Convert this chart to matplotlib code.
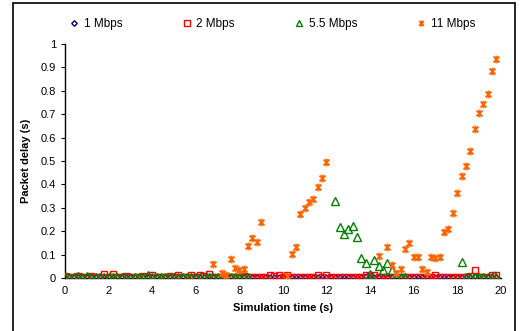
import matplotlib
matplotlib.use("Agg")
import matplotlib.pyplot as plt
import numpy as np
from matplotlib.path import Path
from matplotlib.patches import Rectangle

plt.rcParams['font.family'] = ['Liberation Sans', 'DejaVu Sans']

# sample times (every 0.2 s)
t = np.round(np.arange(0, 20, 0.2), 1)

# 1 Mbps - sits on the floor the whole run
d1 = [0.002, 0.002, 0.001, 0.002, 0.002, 0.002, 0.001, 0.002, 0.002, 0.002,
      0.002, 0.002, 0.002, 0.001, 0.002, 0.002, 0.002, 0.002, 0.002, 0.002,
      0.002, 0.001, 0.002, 0.002, 0.002, 0.002, 0.002, 0.002, 0.002, 0.002,
      0.002, 0.002, 0.002, 0.002, 0.002, 0.002, 0.002, 0.002, 0.002, 0.002,
      0.002, 0.002, 0.002, 0.002, 0.002, 0.002, 0.002, 0.002, 0.002, 0.002,
      0.002, 0.002, 0.002, 0.002, 0.002, 0.002, 0.002, 0.002, 0.002, 0.002,
      0.002, 0.002, 0.002, 0.002, 0.002, 0.002, 0.002, 0.002, 0.002, 0.003,
      0.002, 0.002, 0.002, 0.002, 0.002, 0.002, 0.002, 0.002, 0.002, 0.002,
      0.002, 0.002, 0.002, 0.002, 0.002, 0.002, 0.002, 0.002, 0.002, 0.002,
      0.002, 0.002, 0.002, 0.002, 0.003, 0.002, 0.002, 0.002, 0.002, 0.002]

# 2 Mbps
d2 = [0.007, 0.006, 0.006, 0.007, 0.006, 0.006, 0.007, 0.006, 0.006, 0.017,
      0.006, 0.017, 0.006, 0.006, 0.007, 0.006, 0.006, 0.006, 0.007, 0.006,
      0.012, 0.006, 0.006, 0.006, 0.007, 0.006, 0.012, 0.006, 0.006, 0.013,
      0.006, 0.015, 0.008, 0.019, 0.006, 0.006, 0.006, 0.006, 0.006, 0.006,
      0.006, 0.007, 0.006, 0.006, 0.006, 0.006, 0.006, 0.013, 0.007, 0.014,
      0.006, 0.014, 0.006, 0.006, 0.006, 0.006, 0.006, 0.006, 0.012, 0.006,
      0.013, 0.006, 0.006, 0.006, 0.006, 0.006, 0.006, 0.006, 0.006, 0.012,
      0.007, 0.013, 0.006, 0.006, 0.006, 0.006, 0.006, 0.006, 0.006, 0.006,
      0.006, 0.006, 0.006, 0.006, 0.006, 0.012, 0.006, 0.006, 0.006, 0.006,
      0.006, 0.006, 0.006, 0.007, 0.036, 0.006, 0.006, 0.006, 0.013, 0.014]

# 5.5 Mbps (gaps where no packets got through)
t55 = [0.0, 0.2, 0.4, 0.6, 0.8, 1.0, 1.2, 1.4, 1.6, 1.8, 2.0, 2.2, 2.4, 2.6,
       2.8, 3.0, 3.2, 3.4, 3.6, 3.8, 4.0, 4.2, 4.4, 4.6, 4.8, 5.0, 5.2, 5.4,
       5.6, 5.8, 6.0, 6.2, 6.4, 6.6, 6.8, 7.0, 7.2, 7.4, 7.6, 7.8, 8.0, 8.2,
       8.4,
       12.4, 12.6, 12.8, 13.0, 13.2, 13.4, 13.6, 13.8, 14.0, 14.2, 14.4, 14.6,
       14.8, 15.0, 15.2, 15.4, 15.6,
       18.2, 18.4, 18.6, 18.8, 19.0, 19.2, 19.4, 19.6, 19.8]
d55 = [0.004, 0.005, 0.004, 0.007, 0.004, 0.008, 0.004, 0.005, 0.004, 0.005,
       0.004, 0.005, 0.004, 0.004, 0.005, 0.004, 0.004, 0.006, 0.004, 0.012,
       0.005, 0.004, 0.004, 0.003, 0.004, 0.004, 0.005, 0.004, 0.004, 0.004,
       0.004, 0.005, 0.004, 0.004, 0.004, 0.004, 0.004, 0.004, 0.004, 0.004,
       0.004, 0.004, 0.004,
       0.329, 0.218, 0.190, 0.210, 0.222, 0.175, 0.086, 0.066, 0.018, 0.077,
       0.052, 0.035, 0.066, 0.036, 0.006, 0.006, 0.006,
       0.068, 0.006, 0.006, 0.006, 0.006, 0.006, 0.006, 0.006, 0.006]

# 11 Mbps
t11 = [6.8, 7.2, 7.4, 7.6, 7.8, 8.0, 8.2, 8.4, 8.6, 8.8, 9.0,
       10.2, 10.4, 10.6, 10.8, 11.0, 11.2, 11.4, 11.6, 11.8, 12.0,
       14.4, 14.8, 15.0, 15.2, 15.4, 15.6, 15.8, 16.0, 16.2, 16.4, 16.6,
       16.8, 17.0, 17.2, 17.4, 17.6, 17.8, 18.0, 18.2, 18.4, 18.6, 18.8,
       19.0, 19.2, 19.4, 19.6, 19.8]
d11 = [0.058, 0.023, 0.013, 0.080, 0.041, 0.034, 0.039, 0.138, 0.172, 0.154, 0.240,
       0.009, 0.104, 0.131, 0.275, 0.300, 0.323, 0.339, 0.390, 0.429, 0.497,
       0.095, 0.134, 0.055, 0.022, 0.037, 0.124, 0.151, 0.092, 0.092, 0.039, 0.024,
       0.092, 0.084, 0.092, 0.196, 0.208, 0.278, 0.362, 0.437, 0.480, 0.542, 0.638,
       0.704, 0.744, 0.786, 0.886, 0.936]

labels = ['1 Mbps', '2 Mbps', '5.5 Mbps', '11 Mbps']

# excel style "star": an X with a vertical bar through it
star = Path([(-1, -1), (1, 1), (-1, 1), (1, -1), (0, -1.3), (0, 1.3)],
            [Path.MOVETO, Path.LINETO, Path.MOVETO, Path.LINETO, Path.MOVETO, Path.LINETO])

fig = plt.figure(figsize=(5.2, 3.31), dpi=100)
ax = fig.add_axes([0.125, 0.16, 0.838, 0.707])

ax.plot(t, d1, ls='none', marker='D', ms=3.5, mfc='none', mec='#000080', mew=1, label=labels[0], zorder=3)
ax.plot(t, d2, ls='none', marker='s', ms=5, mfc='none', mec='#FF0000', mew=1, label=labels[1], zorder=4)
ax.plot(t55, d55, ls='none', marker='^', ms=5.5, mfc='none', mec='#008000', mew=1, label=labels[2], zorder=5)
ax.plot(t11, d11, ls='none', marker=star, ms=5.5, mfc='none', mec='#FF6600', mew=1.4, label=labels[3], zorder=6)

ax.set_xlim(0, 20)
ax.set_ylim(0, 1)
ax.set_xticks(np.arange(0, 21, 2))
ax.set_yticks(np.round(np.arange(0, 1.01, 0.1), 1))
ax.set_yticklabels(['0', '0.1', '0.2', '0.3', '0.4', '0.5', '0.6', '0.7', '0.8', '0.9', '1'])
ax.tick_params(axis='both', labelsize=8, colors='black', direction='out', length=3, width=0.8)
ax.tick_params(axis='x', length=0, pad=6)
for s in ['top', 'right']:
    ax.spines[s].set_visible(False)
ax.spines['left'].set_linewidth(1)
ax.spines['bottom'].set_linewidth(1)

ax.set_xlabel('Simulation time (s)', fontsize=8, fontweight='bold', labelpad=5)
ax.set_ylabel('Packet delay (s)', fontsize=8, fontweight='bold', labelpad=7)

fig.legend(loc='upper center', bbox_to_anchor=(0.525, 0.978), ncol=4, frameon=False,
           fontsize=8.5, handlelength=0.6, handletextpad=0.5, columnspacing=5.15, markerscale=0.8)

# chart-area border
fig.patches.append(Rectangle((13 / 520, -0.05), (515 - 13) / 520, 1 - 3 / 331 + 0.05,
                             transform=fig.transFigure, fill=False, ec='black', lw=1.2))

fig.savefig('out.png', dpi=100)
